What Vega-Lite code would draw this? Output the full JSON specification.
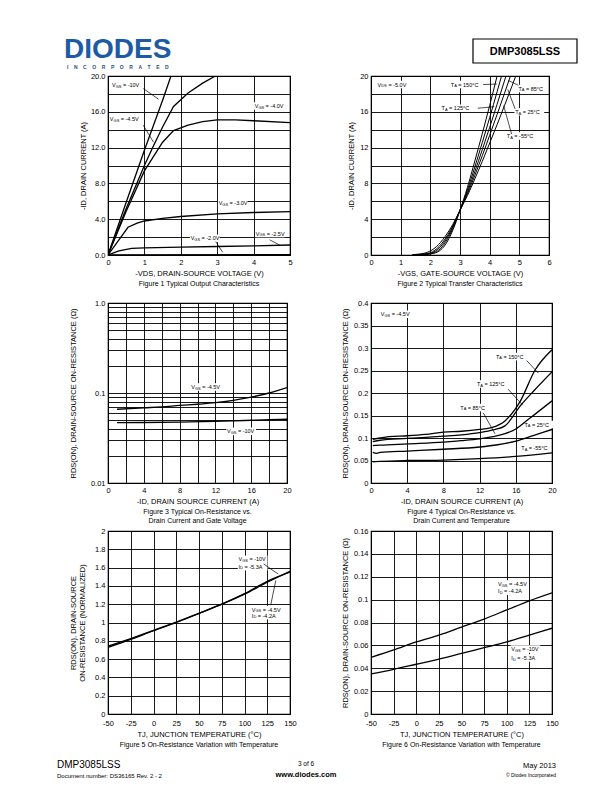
{
  "$schema": "https://vega.github.io/schema/vega-lite/v6.json",
  "padding": 0,
  "background": "white",
  "columns": 2,
  "bounds": "flush",
  "align": "each",
  "spacing": {"row": 48, "column": 81},
  "datasets": {
    "l1": [
      {"x": 0.11, "y": 19.0, "p": "V", "s": "GS", "r": "= -10V", "k": "v"},
      {"x": 0.05, "y": 15.2, "p": "V", "s": "GS", "r": "= -4.5V", "k": "v"},
      {"x": 4.03, "y": 16.65, "p": "V", "s": "GS", "r": "= -4.0V", "k": "v"},
      {"x": 3.04, "y": 5.8, "p": "V", "s": "GS", "r": "= -3.0V", "k": "v"},
      {"x": 2.27, "y": 1.86, "p": "V", "s": "GS", "r": "= -2.0V", "k": "v"},
      {"x": 4.06, "y": 2.4, "p": "V", "s": "GS", "r": "= -2.5V", "k": "v"}
    ],
    "l2": [
      {"x": 0.22, "y": 19.05, "p": "V", "s": "DS", "r": "= -5.0V", "k": "v"},
      {"x": 2.69, "y": 19.05, "p": "T", "s": "A", "r": "= 150°C", "k": "t"},
      {"x": 2.38, "y": 16.4, "p": "T", "s": "A", "r": "= 125°C", "k": "t"},
      {"x": 4.97, "y": 18.6, "p": "T", "s": "A", "r": "= 85°C", "k": "t"},
      {"x": 4.86, "y": 16.0, "p": "T", "s": "A", "r": "= 25°C", "k": "t"},
      {"x": 4.58, "y": 13.3, "p": "T", "s": "A", "r": "= -55°C", "k": "t"}
    ],
    "l3": [
      {"x": 9.3, "y": 0.1167, "p": "V", "s": "GS", "r": "= -4.5V", "k": "v"},
      {"x": 13.3, "y": 0.0375, "p": "V", "s": "GS", "r": "= -10V", "k": "v"}
    ],
    "l4": [
      {"x": 1.08, "y": 0.375, "p": "V", "s": "GS", "r": "= -4.5V", "k": "v"},
      {"x": 13.8, "y": 0.281, "p": "T", "s": "A", "r": "= 150°C", "k": "t"},
      {"x": 11.7, "y": 0.22, "p": "T", "s": "A", "r": "= 125°C", "k": "t"},
      {"x": 9.87, "y": 0.1676, "p": "T", "s": "A", "r": "= 85°C", "k": "t"},
      {"x": 16.95, "y": 0.13, "p": "T", "s": "A", "r": "= 25°C", "k": "t"},
      {"x": 16.6, "y": 0.078, "p": "T", "s": "A", "r": "= -55°C", "k": "t"}
    ],
    "l5": [
      {"x": 93.4, "y": 1.69, "p": "V", "s": "GS", "r": "= -10V", "k": "v"},
      {"x": 93.4, "y": 1.61, "p": "I", "s": "D", "r": "= -5.3A", "k": "i"},
      {"x": 108, "y": 1.14, "p": "V", "s": "GS", "r": "= -4.5V", "k": "v"},
      {"x": 108, "y": 1.075, "p": "I", "s": "D", "r": "= -4.2A", "k": "i"}
    ],
    "l6": [
      {"x": 90.4, "y": 0.1136, "p": "V", "s": "GS", "r": "= -4.5V", "k": "v"},
      {"x": 90.4, "y": 0.1074, "p": "I", "s": "D", "r": "= -4.2A", "k": "i"},
      {"x": 105, "y": 0.0568, "p": "V", "s": "GS", "r": "= -10V", "k": "v"},
      {"x": 105, "y": 0.049, "p": "I", "s": "D", "r": "= -5.3A", "k": "i"}
    ]
  },
  "concat": [
    {
      "width": 182, "height": 28,
      "view": {"stroke": null},
      "encoding": {
        "x": {"field": "x", "type": "quantitative", "scale": {"domain": [108, 290], "nice": false, "zero": false}, "axis": null},
        "y": {"field": "y", "type": "quantitative", "scale": {"domain": [0, 28], "nice": false, "zero": false, "reverse": true}, "axis": null}
      },
      "layer": [
        {"data": {"values": [{"x": 0, "y": 0, "x2": 1, "y2": 0}]}, "mark": {"type": "rule", "opacity": 0, "clip": false}, "encoding": {"x2": {"field": "x2"}, "y2": {"field": "y2"}}},
        {"data": {"values": [{"x": 473, "y": 39, "x2": 577, "y2": 63}]}, "mark": {"type": "rect", "fill": null, "stroke": "black", "strokeWidth": 1.2, "clip": false}, "encoding": {"x2": {"field": "x2"}, "y2": {"field": "y2"}}},
        {"data": {"values": [{"x": 64, "y": 58, "t": "DIODES"}]}, "mark": {"type": "text", "align": "left", "baseline": "alphabetic", "fontSize": 28, "fontWeight": "bold", "color": "#1d5ba6", "font": "Liberation Sans"}, "encoding": {"text": {"field": "t"}}},
        {"data": {"values": [{"x": 67, "y": 69, "t": "I\u00a0\u00a0\u00a0\u00a0N\u00a0\u00a0\u00a0\u00a0C\u00a0\u00a0\u00a0\u00a0O\u00a0\u00a0\u00a0\u00a0R\u00a0\u00a0\u00a0\u00a0P\u00a0\u00a0\u00a0\u00a0O\u00a0\u00a0\u00a0\u00a0R\u00a0\u00a0\u00a0\u00a0A\u00a0\u00a0\u00a0\u00a0T\u00a0\u00a0\u00a0\u00a0E\u00a0\u00a0\u00a0\u00a0D"}]}, "mark": {"type": "text", "align": "left", "baseline": "alphabetic", "fontSize": 5, "fontWeight": "bold", "color": "#2a4f86"}, "encoding": {"text": {"field": "t"}}},
        {"data": {"values": [{"x": 525, "y": 51.5, "t": "DMP3085LSS"}]}, "mark": {"type": "text", "align": "center", "baseline": "middle", "fontSize": 11, "fontWeight": "bold"}, "encoding": {"text": {"field": "t"}}},
        {"data": {"values": [{"x": 57, "y": 768, "t": "DMP3085LSS"}]}, "mark": {"type": "text", "align": "left", "baseline": "alphabetic", "fontSize": 10}, "encoding": {"text": {"field": "t"}}},
        {"data": {"values": [{"x": 306, "y": 766, "t": "3 of 6"}]}, "mark": {"type": "text", "align": "center", "baseline": "alphabetic", "fontSize": 6.5}, "encoding": {"text": {"field": "t"}}},
        {"data": {"values": [{"x": 556, "y": 768, "t": "May 2013"}]}, "mark": {"type": "text", "align": "right", "baseline": "alphabetic", "fontSize": 7.5}, "encoding": {"text": {"field": "t"}}},
        {"data": {"values": [{"x": 57, "y": 777.5, "t": "Document number: DS36165  Rev. 2 - 2"}]}, "mark": {"type": "text", "align": "left", "baseline": "alphabetic", "fontSize": 6}, "encoding": {"text": {"field": "t"}}},
        {"data": {"values": [{"x": 306, "y": 777, "t": "www.diodes.com"}]}, "mark": {"type": "text", "align": "center", "baseline": "alphabetic", "fontSize": 7.5, "fontWeight": "bold"}, "encoding": {"text": {"field": "t"}}},
        {"data": {"values": [{"x": 556, "y": 776.5, "t": "© Diodes Incorporated"}]}, "mark": {"type": "text", "align": "right", "baseline": "alphabetic", "fontSize": 5}, "encoding": {"text": {"field": "t"}}}
      ]
    },
    {
      "width": 181, "height": 28,
      "view": {"stroke": null},
      "data": {"values": [{"a": 1}]},
      "mark": {"type": "point", "opacity": 0}
    },
    {
      "width": 182, "height": 179,
      "title": {"text": "Figure 1  Typical Output Characteristics"},
      "encoding": {
        "x": {"field": "x", "type": "quantitative", "scale": {"domain": [0, 5], "nice": false},
              "axis": {"values": [0, 1, 2, 3, 4, 5], "format": "d", "title": "-VDS, DRAIN-SOURCE VOLTAGE (V)"}},
        "y": {"field": "y", "type": "quantitative", "scale": {"domain": [0, 20], "nice": false},
              "axis": {"values": [0, 2, 4, 6, 8, 10, 12, 14, 16, 18, 20], "labelExpr": "datum.value % 4 == 0 ? format(datum.value, '.1f') : ''", "title": "-ID, DRAIN CURRENT (A)", "titlePadding": 3}}
      },
      "layer": [
        {"data": {"name": "l1"}, "mark": {"type": "point", "shape": "M-0.05,-0.26H2V0.26H-0.05Z", "size": 841, "filled": true, "color": "white", "opacity": 1, "strokeWidth": 0}},
        {"data": {"values": [
          {"s": "-10", "x": 0, "y": 0}, {"s": "-10", "x": 0.5, "y": 5.9}, {"s": "-10", "x": 1, "y": 11.7}, {"s": "-10", "x": 1.5, "y": 17.3}, {"s": "-10", "x": 1.73, "y": 20},
          {"s": "-4.5", "x": 0, "y": 0}, {"s": "-4.5", "x": 0.5, "y": 5.2}, {"s": "-4.5", "x": 1, "y": 10}, {"s": "-4.5", "x": 1.25, "y": 12.2}, {"s": "-4.5", "x": 1.5, "y": 14.3}, {"s": "-4.5", "x": 1.8, "y": 16.6}, {"s": "-4.5", "x": 2.2, "y": 18.1}, {"s": "-4.5", "x": 2.6, "y": 19.2}, {"s": "-4.5", "x": 2.95, "y": 20},
          {"s": "-4.0", "x": 0, "y": 0}, {"s": "-4.0", "x": 0.5, "y": 4.9}, {"s": "-4.0", "x": 1, "y": 9.4}, {"s": "-4.0", "x": 1.5, "y": 12.6}, {"s": "-4.0", "x": 1.8, "y": 13.9}, {"s": "-4.0", "x": 2.2, "y": 14.5}, {"s": "-4.0", "x": 2.6, "y": 14.9}, {"s": "-4.0", "x": 3, "y": 15.1}, {"s": "-4.0", "x": 3.5, "y": 15.1}, {"s": "-4.0", "x": 4, "y": 15}, {"s": "-4.0", "x": 5, "y": 14.8},
          {"s": "-3.0", "x": 0, "y": 0}, {"s": "-3.0", "x": 0.3, "y": 1.7}, {"s": "-3.0", "x": 0.55, "y": 3.1}, {"s": "-3.0", "x": 0.8, "y": 3.55}, {"s": "-3.0", "x": 1, "y": 3.8}, {"s": "-3.0", "x": 1.5, "y": 4.1}, {"s": "-3.0", "x": 2, "y": 4.3}, {"s": "-3.0", "x": 3, "y": 4.6}, {"s": "-3.0", "x": 4, "y": 4.75}, {"s": "-3.0", "x": 5, "y": 4.85},
          {"s": "-2.5", "x": 0, "y": 0}, {"s": "-2.5", "x": 0.3, "y": 0.45}, {"s": "-2.5", "x": 0.65, "y": 0.75}, {"s": "-2.5", "x": 1, "y": 0.8}, {"s": "-2.5", "x": 2, "y": 0.88}, {"s": "-2.5", "x": 3, "y": 0.95}, {"s": "-2.5", "x": 4, "y": 1.02}, {"s": "-2.5", "x": 5, "y": 1.12},
          {"s": "-2.0", "x": 0, "y": 0}, {"s": "-2.0", "x": 5, "y": 0.05}
        ]}, "mark": {"type": "line", "clip": true}, "encoding": {"detail": {"field": "s"}}},
        {"data": {"values": [
          {"x": 0.97, "y": 18.6, "x2": 1.39, "y2": 17.4}, {"x": 0.97, "y": 14.5, "x2": 1.25, "y2": 12.6},
          {"x": 2.96, "y": 1.49, "x2": 3.15, "y2": 0.3}, {"x": 4.44, "y": 1.7, "x2": 4.72, "y2": 1.1}
        ]}, "mark": {"type": "rule", "strokeWidth": 0.7}, "encoding": {"x2": {"field": "x2"}, "y2": {"field": "y2"}}},
        {"data": {"name": "l1"},
         "layer": [
           {"mark": {"type": "text", "align": "left", "baseline": "middle"}, "encoding": {"text": {"field": "p"}}},
           {"transform": [{"filter": "datum.k == 'v'"}], "mark": {"type": "text", "align": "left", "baseline": "middle", "fontSize": 4, "dx": 3.7, "dy": 1.8}, "encoding": {"text": {"field": "s"}}},
           {"transform": [{"filter": "datum.k == 'v'"}], "mark": {"type": "text", "align": "left", "baseline": "middle", "dx": 10.9}, "encoding": {"text": {"field": "r"}}}
         ]}
      ]
    },
    {
      "width": 178, "height": 179,
      "title": {"text": "Figure 2  Typical Transfer Characteristics"},
      "encoding": {
        "x": {"field": "x", "type": "quantitative", "scale": {"domain": [0, 6], "nice": false},
              "axis": {"values": [0, 1, 2, 3, 4, 5, 6], "format": "d", "title": "-VGS, GATE-SOURCE VOLTAGE (V)"}},
        "y": {"field": "y", "type": "quantitative", "scale": {"domain": [0, 20], "nice": false},
              "axis": {"values": [0, 2, 4, 6, 8, 10, 12, 14, 16, 18, 20], "labelExpr": "datum.value % 4 == 0 ? format(datum.value, 'd') : ''", "title": "-ID, DRAIN CURRENT (A)"}}
      },
      "layer": [
        {"data": {"name": "l2"}, "mark": {"type": "point", "shape": "M-0.05,-0.26H2V0.26H-0.05Z", "size": 841, "filled": true, "color": "white", "opacity": 1, "strokeWidth": 0}},
        {"data": {"values": [
          {"s": "150", "x": 1.4, "y": 0}, {"s": "150", "x": 1.8, "y": 0.05}, {"s": "150", "x": 2.05, "y": 0.15}, {"s": "150", "x": 2.3, "y": 0.45}, {"s": "150", "x": 2.5, "y": 1.12}, {"s": "150", "x": 2.75, "y": 2.71}, {"s": "150", "x": 3, "y": 5}, {"s": "150", "x": 3.25, "y": 7.55}, {"s": "150", "x": 3.5, "y": 10.5}, {"s": "150", "x": 3.75, "y": 13.55}, {"s": "150", "x": 4, "y": 16.7}, {"s": "150", "x": 4.25, "y": 20},
          {"s": "125", "x": 1.4, "y": 0}, {"s": "125", "x": 1.75, "y": 0.05}, {"s": "125", "x": 1.95, "y": 0.12}, {"s": "125", "x": 2.2, "y": 0.35}, {"s": "125", "x": 2.5, "y": 1.37}, {"s": "125", "x": 2.75, "y": 2.9}, {"s": "125", "x": 3, "y": 5}, {"s": "125", "x": 3.25, "y": 7.25}, {"s": "125", "x": 3.5, "y": 9.83}, {"s": "125", "x": 3.75, "y": 12.56}, {"s": "125", "x": 4, "y": 15.35}, {"s": "125", "x": 4.25, "y": 18.24}, {"s": "125", "x": 4.4, "y": 20},
          {"s": "85", "x": 1.4, "y": 0}, {"s": "85", "x": 1.7, "y": 0.05}, {"s": "85", "x": 1.85, "y": 0.1}, {"s": "85", "x": 2.1, "y": 0.3}, {"s": "85", "x": 2.4, "y": 1.14}, {"s": "85", "x": 2.7, "y": 2.73}, {"s": "85", "x": 3, "y": 5}, {"s": "85", "x": 3.25, "y": 7.01}, {"s": "85", "x": 3.5, "y": 9.32}, {"s": "85", "x": 3.75, "y": 11.75}, {"s": "85", "x": 4, "y": 14.26}, {"s": "85", "x": 4.25, "y": 16.84}, {"s": "85", "x": 4.55, "y": 20},
          {"s": "25", "x": 1.4, "y": 0}, {"s": "25", "x": 1.6, "y": 0.04}, {"s": "25", "x": 1.75, "y": 0.1}, {"s": "25", "x": 2, "y": 0.25}, {"s": "25", "x": 2.3, "y": 0.97}, {"s": "25", "x": 2.6, "y": 2.31}, {"s": "25", "x": 2.8, "y": 3.53}, {"s": "25", "x": 3, "y": 5}, {"s": "25", "x": 3.25, "y": 6.82}, {"s": "25", "x": 3.5, "y": 8.9}, {"s": "25", "x": 3.75, "y": 11.09}, {"s": "25", "x": 4, "y": 13.37}, {"s": "25", "x": 4.25, "y": 15.7}, {"s": "25", "x": 4.5, "y": 18.07}, {"s": "25", "x": 4.7, "y": 20},
          {"s": "-55", "x": 1.4, "y": 0.02}, {"s": "-55", "x": 1.6, "y": 0.1}, {"s": "-55", "x": 1.9, "y": 0.3}, {"s": "-55", "x": 2.2, "y": 0.92}, {"s": "-55", "x": 2.5, "y": 2.07}, {"s": "-55", "x": 2.75, "y": 3.37}, {"s": "-55", "x": 3, "y": 5}, {"s": "-55", "x": 3.25, "y": 6.64}, {"s": "-55", "x": 3.5, "y": 8.5}, {"s": "-55", "x": 3.75, "y": 10.46}, {"s": "-55", "x": 4, "y": 12.5}, {"s": "-55", "x": 4.25, "y": 14.57}, {"s": "-55", "x": 4.5, "y": 16.7}, {"s": "-55", "x": 4.75, "y": 18.86}, {"s": "-55", "x": 4.88, "y": 20}
        ]}, "mark": {"type": "line", "interpolate": "monotone", "clip": true, "strokeWidth": 1}, "encoding": {"detail": {"field": "s"}}},
        {"data": {"values": [
          {"x": 3.78, "y": 19.05, "x2": 4.24, "y2": 19.1}, {"x": 3.6, "y": 16.4, "x2": 4.16, "y2": 16.57},
          {"x": 4.97, "y": 18.96, "x2": 4.63, "y2": 19.5}, {"x": 4.86, "y": 16.3, "x2": 4.61, "y2": 18.5},
          {"x": 4.74, "y": 13.5, "x2": 4.47, "y2": 16.7}
        ]}, "mark": {"type": "rule", "strokeWidth": 0.7}, "encoding": {"x2": {"field": "x2"}, "y2": {"field": "y2"}}},
        {"data": {"name": "l2"},
         "layer": [
           {"mark": {"type": "text", "align": "left", "baseline": "middle"}, "encoding": {"text": {"field": "p"}}},
           {"transform": [{"filter": "datum.k == 'v'"}], "mark": {"type": "text", "align": "left", "baseline": "middle", "fontSize": 4, "dx": 3.7, "dy": 1.8}, "encoding": {"text": {"field": "s"}}},
           {"transform": [{"filter": "datum.k == 'v'"}], "mark": {"type": "text", "align": "left", "baseline": "middle", "dx": 10.9}, "encoding": {"text": {"field": "r"}}},
           {"transform": [{"filter": "datum.k == 't'"}], "mark": {"type": "text", "align": "left", "baseline": "middle", "fontSize": 4, "dx": 3.4, "dy": 1.8}, "encoding": {"text": {"field": "s"}}},
           {"transform": [{"filter": "datum.k == 't'"}], "mark": {"type": "text", "align": "left", "baseline": "middle", "dx": 7.5}, "encoding": {"text": {"field": "r"}}}
         ]}
      ]
    },
    {
      "width": 179, "height": 180,
      "title": {"text": ["Figure 3  Typical On-Resistance vs.", "Drain Current and Gate Voltage"]},
      "encoding": {
        "x": {"field": "x", "type": "quantitative", "scale": {"domain": [0, 20], "nice": false},
              "axis": {"values": [0, 2, 4, 6, 8, 10, 12, 14, 16, 18, 20], "labelExpr": "datum.value % 4 == 0 ? format(datum.value, 'd') : ''", "title": "-ID, DRAIN SOURCE CURRENT (A)"}},
        "y": {"field": "y", "type": "quantitative", "scale": {"type": "log", "domain": [0.01, 1], "nice": false},
              "axis": {"values": [0.01, 0.02, 0.03, 0.04, 0.05, 0.06, 0.07, 0.08, 0.09, 0.1, 0.2, 0.3, 0.4, 0.5, 0.6, 0.7, 0.8, 0.9, 1], "labelExpr": "datum.value == 0.01 ? '0.01' : datum.value == 0.1 ? '0.1' : datum.value == 1 ? '1.0' : ''", "title": "RDS(ON), DRAIN-SOURCE ON-RESISTANCE (Ω)", "titlePadding": 13}}
      },
      "layer": [
        {"data": {"name": "l3"}, "mark": {"type": "point", "shape": "M-0.05,-0.26H2V0.26H-0.05Z", "size": 841, "filled": true, "color": "white", "opacity": 1, "strokeWidth": 0}},
        {"data": {"values": [
          {"s": "-4.5", "x": 1, "y": 0.066}, {"s": "-4.5", "x": 4, "y": 0.0685}, {"s": "-4.5", "x": 6, "y": 0.07}, {"s": "-4.5", "x": 8, "y": 0.0727}, {"s": "-4.5", "x": 10, "y": 0.075}, {"s": "-4.5", "x": 12, "y": 0.078}, {"s": "-4.5", "x": 14, "y": 0.083}, {"s": "-4.5", "x": 16, "y": 0.09}, {"s": "-4.5", "x": 18, "y": 0.1}, {"s": "-4.5", "x": 20, "y": 0.1148},
          {"s": "-10", "x": 1, "y": 0.0469}, {"s": "-10", "x": 4, "y": 0.047}, {"s": "-10", "x": 8, "y": 0.0475}, {"s": "-10", "x": 12, "y": 0.0485}, {"s": "-10", "x": 14, "y": 0.049}, {"s": "-10", "x": 16, "y": 0.0498}, {"s": "-10", "x": 18, "y": 0.0505}, {"s": "-10", "x": 20, "y": 0.0511}
        ]}, "mark": {"type": "line", "interpolate": "monotone", "clip": true}, "encoding": {"detail": {"field": "s"}}},
        {"data": {"name": "l3"},
         "layer": [
           {"mark": {"type": "text", "align": "left", "baseline": "middle"}, "encoding": {"text": {"field": "p"}}},
           {"mark": {"type": "text", "align": "left", "baseline": "middle", "fontSize": 4, "dx": 3.7, "dy": 1.8}, "encoding": {"text": {"field": "s"}}},
           {"mark": {"type": "text", "align": "left", "baseline": "middle", "dx": 10.9}, "encoding": {"text": {"field": "r"}}}
         ]}
      ]
    },
    {
      "width": 181, "height": 180,
      "title": {"text": ["Figure 4  Typical On-Resistance vs.", "Drain Current and Temperature"]},
      "encoding": {
        "x": {"field": "x", "type": "quantitative", "scale": {"domain": [0, 20], "nice": false},
              "axis": {"values": [0, 4, 8, 12, 16, 20], "format": "d", "title": "-ID, DRAIN SOURCE CURRENT (A)"}},
        "y": {"field": "y", "type": "quantitative", "scale": {"domain": [0, 0.4], "nice": false},
              "axis": {"values": [0, 0.05, 0.1, 0.15, 0.2, 0.25, 0.3, 0.35, 0.4], "format": "~g", "title": "RDS(ON), DRAIN-SOURCE ON-RESISTANCE (Ω)"}}
      },
      "layer": [
        {"data": {"name": "l4"}, "mark": {"type": "point", "shape": "M-0.05,-0.26H2V0.26H-0.05Z", "size": 841, "filled": true, "color": "white", "opacity": 1, "strokeWidth": 0}},
        {"data": {"values": [
          {"s": "150", "x": 0.2, "y": 0.097}, {"s": "150", "x": 1, "y": 0.1}, {"s": "150", "x": 2, "y": 0.103}, {"s": "150", "x": 4, "y": 0.105}, {"s": "150", "x": 6, "y": 0.108}, {"s": "150", "x": 8, "y": 0.113}, {"s": "150", "x": 10, "y": 0.115}, {"s": "150", "x": 12, "y": 0.119}, {"s": "150", "x": 13.3, "y": 0.123}, {"s": "150", "x": 14.8, "y": 0.138}, {"s": "150", "x": 16.5, "y": 0.182}, {"s": "150", "x": 18.1, "y": 0.25}, {"s": "150", "x": 20, "y": 0.296},
          {"s": "125", "x": 0.2, "y": 0.092}, {"s": "125", "x": 1, "y": 0.095}, {"s": "125", "x": 4, "y": 0.099}, {"s": "125", "x": 8, "y": 0.104}, {"s": "125", "x": 10, "y": 0.107}, {"s": "125", "x": 12, "y": 0.112}, {"s": "125", "x": 13.5, "y": 0.118}, {"s": "125", "x": 14.8, "y": 0.127}, {"s": "125", "x": 16.6, "y": 0.174}, {"s": "125", "x": 18, "y": 0.205}, {"s": "125", "x": 20, "y": 0.247},
          {"s": "85", "x": 0.2, "y": 0.083}, {"s": "85", "x": 1, "y": 0.084}, {"s": "85", "x": 4, "y": 0.087}, {"s": "85", "x": 8, "y": 0.091}, {"s": "85", "x": 10, "y": 0.094}, {"s": "85", "x": 12, "y": 0.098}, {"s": "85", "x": 13.5, "y": 0.103}, {"s": "85", "x": 14.8, "y": 0.1095}, {"s": "85", "x": 16, "y": 0.12}, {"s": "85", "x": 17.4, "y": 0.1415}, {"s": "85", "x": 20, "y": 0.1825},
          {"s": "25", "x": 0.2, "y": 0.068}, {"s": "25", "x": 0.6, "y": 0.066}, {"s": "25", "x": 1, "y": 0.068}, {"s": "25", "x": 4, "y": 0.071}, {"s": "25", "x": 8, "y": 0.075}, {"s": "25", "x": 12, "y": 0.08}, {"s": "25", "x": 14, "y": 0.085}, {"s": "25", "x": 16, "y": 0.093}, {"s": "25", "x": 18, "y": 0.106}, {"s": "25", "x": 20, "y": 0.119},
          {"s": "-55", "x": 0.2, "y": 0.047}, {"s": "-55", "x": 1, "y": 0.048}, {"s": "-55", "x": 4, "y": 0.05}, {"s": "-55", "x": 8, "y": 0.051}, {"s": "-55", "x": 12, "y": 0.054}, {"s": "-55", "x": 16, "y": 0.059}, {"s": "-55", "x": 20, "y": 0.067}
        ]}, "mark": {"type": "line", "interpolate": "monotone", "clip": true}, "encoding": {"detail": {"field": "s"}}},
        {"data": {"values": [
          {"x": 17.2, "y": 0.272, "x2": 18.5, "y2": 0.244}, {"x": 15.15, "y": 0.2085, "x2": 16.76, "y2": 0.173},
          {"x": 12.4, "y": 0.156, "x2": 13.7, "y2": 0.1095}
        ]}, "mark": {"type": "rule", "strokeWidth": 0.7}, "encoding": {"x2": {"field": "x2"}, "y2": {"field": "y2"}}},
        {"data": {"name": "l4"},
         "layer": [
           {"mark": {"type": "text", "align": "left", "baseline": "middle"}, "encoding": {"text": {"field": "p"}}},
           {"transform": [{"filter": "datum.k == 'v'"}], "mark": {"type": "text", "align": "left", "baseline": "middle", "fontSize": 4, "dx": 3.7, "dy": 1.8}, "encoding": {"text": {"field": "s"}}},
           {"transform": [{"filter": "datum.k == 'v'"}], "mark": {"type": "text", "align": "left", "baseline": "middle", "dx": 10.9}, "encoding": {"text": {"field": "r"}}},
           {"transform": [{"filter": "datum.k == 't'"}], "mark": {"type": "text", "align": "left", "baseline": "middle", "fontSize": 4, "dx": 3.4, "dy": 1.8}, "encoding": {"text": {"field": "s"}}},
           {"transform": [{"filter": "datum.k == 't'"}], "mark": {"type": "text", "align": "left", "baseline": "middle", "dx": 7.5}, "encoding": {"text": {"field": "r"}}}
         ]}
      ]
    },
    {
      "width": 182, "height": 183,
      "title": {"text": "Figure 5  On-Resistance Variation with Temperature"},
      "encoding": {
        "x": {"field": "x", "type": "quantitative", "scale": {"domain": [-50, 150], "nice": false},
              "axis": {"values": [-50, -25, 0, 25, 50, 75, 100, 125, 150], "labelExpr": "'' + datum.value", "labelPadding": 5, "title": "TJ, JUNCTION TEMPERATURE (°C)"}},
        "y": {"field": "y", "type": "quantitative", "scale": {"domain": [0, 2], "nice": false},
              "axis": {"values": [0, 0.2, 0.4, 0.6, 0.8, 1, 1.2, 1.4, 1.6, 1.8, 2], "format": "~g", "title": ["RDS(ON), DRAIN-SOURCE", "ON-RESISTANCE (NORMALIZED)"], "titlePadding": 8}}
      },
      "layer": [
        {"data": {"name": "l5"}, "mark": {"type": "point", "shape": "M-0.05,-0.26H2V0.26H-0.05Z", "size": 841, "filled": true, "color": "white", "opacity": 1, "strokeWidth": 0}},
        {"data": {"values": [
          {"s": "-10", "x": -50, "y": 0.727}, {"s": "-10", "x": -25, "y": 0.815}, {"s": "-10", "x": 0, "y": 0.91}, {"s": "-10", "x": 25, "y": 1.0}, {"s": "-10", "x": 50, "y": 1.1}, {"s": "-10", "x": 75, "y": 1.2}, {"s": "-10", "x": 100, "y": 1.31}, {"s": "-10", "x": 125, "y": 1.44}, {"s": "-10", "x": 150, "y": 1.56},
          {"s": "-4.5", "x": -50, "y": 0.74}, {"s": "-4.5", "x": -25, "y": 0.825}, {"s": "-4.5", "x": 0, "y": 0.915}, {"s": "-4.5", "x": 25, "y": 1.005}, {"s": "-4.5", "x": 50, "y": 1.1}, {"s": "-4.5", "x": 75, "y": 1.2}, {"s": "-4.5", "x": 100, "y": 1.315}, {"s": "-4.5", "x": 125, "y": 1.45}, {"s": "-4.5", "x": 150, "y": 1.55}
        ]}, "mark": {"type": "line", "interpolate": "monotone", "clip": true}, "encoding": {"detail": {"field": "s"}}},
        {"data": {"values": [
          {"x": 121, "y": 1.64, "x2": 137, "y2": 1.53}, {"x": 128.8, "y": 1.19, "x2": 134.4, "y2": 1.46}
        ]}, "mark": {"type": "rule", "strokeWidth": 0.7}, "encoding": {"x2": {"field": "x2"}, "y2": {"field": "y2"}}},
        {"data": {"name": "l5"},
         "layer": [
           {"mark": {"type": "text", "align": "left", "baseline": "middle"}, "encoding": {"text": {"field": "p"}}},
           {"transform": [{"filter": "datum.k == 'v'"}], "mark": {"type": "text", "align": "left", "baseline": "middle", "fontSize": 4, "dx": 3.7, "dy": 1.8}, "encoding": {"text": {"field": "s"}}},
           {"transform": [{"filter": "datum.k == 'v'"}], "mark": {"type": "text", "align": "left", "baseline": "middle", "dx": 10.9}, "encoding": {"text": {"field": "r"}}},
           {"transform": [{"filter": "datum.k == 'i'"}], "mark": {"type": "text", "align": "left", "baseline": "middle", "fontSize": 4, "dx": 1.6, "dy": 1.8}, "encoding": {"text": {"field": "s"}}},
           {"transform": [{"filter": "datum.k == 'i'"}], "mark": {"type": "text", "align": "left", "baseline": "middle", "dx": 6.0}, "encoding": {"text": {"field": "r"}}}
         ]}
      ]
    },
    {
      "width": 181, "height": 183,
      "title": {"text": "Figure 6  On-Resistance Variation with Temperature"},
      "encoding": {
        "x": {"field": "x", "type": "quantitative", "scale": {"domain": [-50, 150], "nice": false},
              "axis": {"values": [-50, -25, 0, 25, 50, 75, 100, 125, 150], "labelExpr": "'' + datum.value", "labelPadding": 5, "title": "TJ, JUNCTION TEMPERATURE (°C)"}},
        "y": {"field": "y", "type": "quantitative", "scale": {"domain": [0, 0.16], "nice": false},
              "axis": {"values": [0, 0.02, 0.04, 0.06, 0.08, 0.1, 0.12, 0.14, 0.16], "format": "~g", "title": "RDS(ON), DRAIN-SOURCE ON-RESISTANCE (Ω)"}}
      },
      "layer": [
        {"data": {"name": "l6"}, "mark": {"type": "point", "shape": "M-0.05,-0.26H2V0.26H-0.05Z", "size": 841, "filled": true, "color": "white", "opacity": 1, "strokeWidth": 0}},
        {"data": {"values": [
          {"s": "-4.5", "x": -50, "y": 0.0495}, {"s": "-4.5", "x": -25, "y": 0.056}, {"s": "-4.5", "x": 0, "y": 0.063}, {"s": "-4.5", "x": 25, "y": 0.069}, {"s": "-4.5", "x": 50, "y": 0.076}, {"s": "-4.5", "x": 75, "y": 0.083}, {"s": "-4.5", "x": 100, "y": 0.091}, {"s": "-4.5", "x": 125, "y": 0.099}, {"s": "-4.5", "x": 150, "y": 0.106},
          {"s": "-10", "x": -50, "y": 0.035}, {"s": "-10", "x": -25, "y": 0.039}, {"s": "-10", "x": 0, "y": 0.0435}, {"s": "-10", "x": 25, "y": 0.048}, {"s": "-10", "x": 50, "y": 0.053}, {"s": "-10", "x": 75, "y": 0.058}, {"s": "-10", "x": 100, "y": 0.063}, {"s": "-10", "x": 125, "y": 0.069}, {"s": "-10", "x": 150, "y": 0.075}
        ]}, "mark": {"type": "line", "interpolate": "monotone", "clip": true}, "encoding": {"detail": {"field": "s"}}},
        {"data": {"name": "l6"},
         "layer": [
           {"mark": {"type": "text", "align": "left", "baseline": "middle"}, "encoding": {"text": {"field": "p"}}},
           {"transform": [{"filter": "datum.k == 'v'"}], "mark": {"type": "text", "align": "left", "baseline": "middle", "fontSize": 4, "dx": 3.7, "dy": 1.8}, "encoding": {"text": {"field": "s"}}},
           {"transform": [{"filter": "datum.k == 'v'"}], "mark": {"type": "text", "align": "left", "baseline": "middle", "dx": 10.9}, "encoding": {"text": {"field": "r"}}},
           {"transform": [{"filter": "datum.k == 'i'"}], "mark": {"type": "text", "align": "left", "baseline": "middle", "fontSize": 4, "dx": 1.6, "dy": 1.8}, "encoding": {"text": {"field": "s"}}},
           {"transform": [{"filter": "datum.k == 'i'"}], "mark": {"type": "text", "align": "left", "baseline": "middle", "dx": 6.0}, "encoding": {"text": {"field": "r"}}}
         ]}
      ]
    }
  ],
  "config": {
    "font": "Liberation Sans",
    "view": {"stroke": "black", "strokeWidth": 1.2},
    "axis": {"grid": true, "gridColor": "black", "gridOpacity": 1, "gridWidth": 0.9, "domain": false, "ticks": false,
             "labelFont": "Liberation Sans", "labelFontSize": 7.5, "labelColor": "black", "labelOverlap": false, "labelFlush": false, "labelPadding": 3,
             "titleFont": "Liberation Sans", "titleFontSize": 7.5, "titleFontWeight": "normal", "titleColor": "black", "titlePadding": 4},
    "title": {"font": "Liberation Sans", "fontSize": 7, "fontWeight": "normal", "color": "black", "orient": "bottom", "anchor": "middle", "offset": 3},
    "line": {"color": "black", "strokeWidth": 1.3},
    "rule": {"color": "black"},
    "text": {"font": "Liberation Sans", "fontSize": 5.5, "color": "black"}
  }
}
